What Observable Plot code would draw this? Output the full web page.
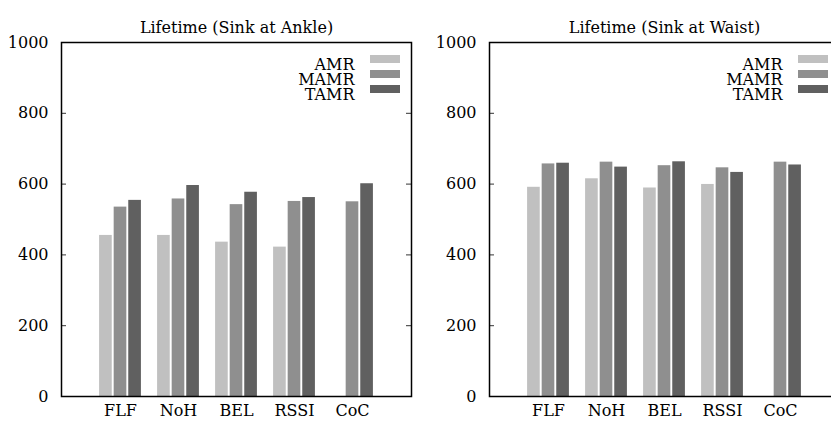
<!DOCTYPE html>
<html><head><meta charset="utf-8">
<script src="https://cdn.jsdelivr.net/npm/d3@7"></script>
<script src="https://cdn.jsdelivr.net/npm/@observablehq/plot@0.6"></script>
<style>
body{margin:0;background:#fff;}
#wrap{position:relative;width:831px;height:423px;overflow:hidden;background:#fff;}
#wrap svg{position:absolute;top:0;}
</style></head><body><div id="wrap"></div>
<script>
const categories = ["FLF", "NoH", "BEL", "RSSI", "CoC"];
const seriesNames = ["AMR", "MAMR", "TAMR"];
const ankleAMR  = [455, 455, 436, 422, null];
const ankleMAMR = [535, 558, 542, 551, 550];
const ankleTAMR = [554, 596, 577, 562, 601];
const waistAMR  = [591, 615, 589, 599, null];
const waistMAMR = [657, 662, 652, 646, 662];
const waistTAMR = [659, 648, 663, 633, 654];
const yTicks = [0, 200, 400, 600, 800, 1000];
const titleAnkle = "Lifetime (Sink at Ankle)";
const titleWaist = "Lifetime (Sink at Waist)";
const colors = ["#c0c0c0", "#8f8f8f", "#606060"];

const FONT = "DejaVu Serif";
const W = 422, H = 423, mL = 61, mR = 11, mT = 42, mB = 27;
const fw = W - mL - mR;
const unit = fw / 6;

const rectSymbol = {draw(ctx) { ctx.moveTo(-15, -4); ctx.lineTo(15, -4); ctx.lineTo(15, 4); ctx.lineTo(-15, 4); ctx.closePath(); }};

function panel(title, seriesValues) {
  const rows = [];
  seriesValues.forEach((vals, j) => vals.forEach((v, i) => {
    if (v != null) rows.push({category: categories[i], series: seriesNames[j], value: v});
  }));
  const gap = 0.8;
  const bars = seriesNames.map((s, j) => Plot.barY(rows.filter(r => r.series === s), {
    x: "category", y: "value", fill: colors[j],
    insetLeft: unit * 0.125 + j * unit * 0.25 + gap,
    insetRight: unit * 0.125 + (2 - j) * unit * 0.25 + gap
  }));
  const legend = seriesNames.flatMap((s, j) => [
    Plot.dot([s], {frameAnchor: "top-right", dx: -26.5, dy: 16.5 + 15 * j, symbol: rectSymbol, fill: colors[j], stroke: "none"}),
    Plot.text([s], {text: d => d, frameAnchor: "top-right", dx: -57, dy: 16.5 + 15 * j, textAnchor: "end", fontSize: 16, fontFamily: FONT})
  ]);
  return Plot.plot({
    width: W, height: H,
    marginLeft: mL, marginRight: mR, marginTop: mT, marginBottom: mB,
    style: {fontFamily: FONT, fontSize: "16px", color: "black", background: "transparent"},
    x: {type: "band", domain: categories, range: [mL + unit * 0.5, mL + unit * 5.5], padding: 0},
    y: {domain: [0, 1000]},
    marks: [
      ...bars,
      Plot.tickY(yTicks, {y: d => d, stroke: "#333", strokeWidth: 1, insetRight: fw - 5}),
      Plot.tickY(yTicks, {y: d => d, stroke: "#333", strokeWidth: 1, insetLeft: fw - 5}),
      Plot.axisY(yTicks, {tickSize: 0, tickPadding: 13, fontSize: 16, fontFamily: FONT, label: null, tickFormat: d => String(d)}),
      Plot.axisX({tickSize: 0, tickPadding: 8, fontSize: 16, fontFamily: FONT, label: null}),
      Plot.frame({stroke: "black", strokeWidth: 1.5}),
      ...legend,
      Plot.text([title], {text: d => d, frameAnchor: "top", dy: -21, fontSize: 16, fontFamily: FONT})
    ]
  });
}

const wrap = document.getElementById("wrap");
const left = panel(titleAnkle, [ankleAMR, ankleMAMR, ankleTAMR]);
left.style.left = "0px";
const right = panel(titleWaist, [waistAMR, waistMAMR, waistTAMR]);
right.style.left = "428px";
wrap.appendChild(left);
wrap.appendChild(right);
</script>
</body></html>
